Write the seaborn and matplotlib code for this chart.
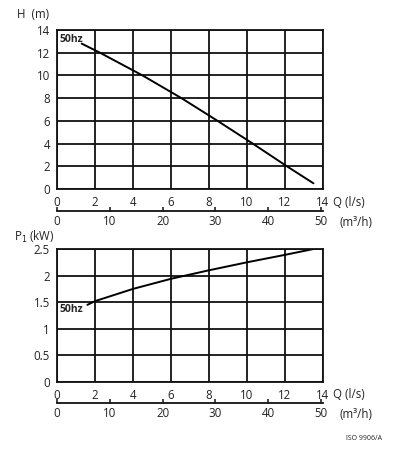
import matplotlib
matplotlib.use("Agg")
import matplotlib.pyplot as plt
import seaborn as sns
import pandas as pd

# ---- data ----
q_head = [1.3, 2.26, 4.5, 6.55, 8.45, 10.3, 12.1, 13.5]
head = [12.8, 12.0, 10.0, 8.0, 6.0, 4.0, 2.0, 0.5]
q_power = [1.6, 2.0, 4.0, 6.0, 8.0, 10.0, 12.0, 13.5]
power = [1.45, 1.52, 1.75, 1.94, 2.1, 2.25, 2.39, 2.5]
q_ticks = [0, 2, 4, 6, 8, 10, 12, 14]
m3h_ticks = [0, 10, 20, 30, 40, 50]
h_ticks = [0, 2, 4, 6, 8, 10, 12, 14]
p_ticks = [0, 0.5, 1, 1.5, 2, 2.5]
p_tick_labels = ["0", "0.5", "1", "1.5", "2", "2.5"]
curve_label = "50hz"

sns.set_theme(style="white")
plt.rcParams['font.family'] = ['Open Sans', 'DejaVu Sans']
FS = 8.3

W, H = 395, 450
fig = plt.figure(figsize=(W / 100, H / 100), dpi=100)

def px_axes(x0, y0, x1, y1):
    return fig.add_axes([x0 / W, 1 - y1 / H, (x1 - x0) / W, (y1 - y0) / H])

ax1 = px_axes(57, 30, 323, 189)
ax2 = px_axes(57, 249, 323, 382)

def style(ax, yticks, ylabels, ylim, sec_offset):
    ax.set_xlim(0, 14)
    ax.set_ylim(*ylim)
    ax.set_xticks(q_ticks)
    ax.set_xticklabels([str(v) for v in q_ticks])
    ax.set_yticks(yticks)
    ax.set_yticklabels(ylabels)
    ax.grid(True, color="#111111", linewidth=1.3)
    ax.set_axisbelow(True)
    for s in ax.spines.values():
        s.set_color("#111111")
        s.set_linewidth(1.3)
    ax.tick_params(axis="both", length=0, labelsize=FS, colors="#222222")
    ax.tick_params(axis="x", pad=5)
    ax.tick_params(axis="y", pad=5)
    ax.set_xlabel("")
    ax.set_ylabel("")
    sec = ax.secondary_xaxis(sec_offset, functions=(lambda q: q * 3.6, lambda m: m / 3.6))
    sec.set_xticks(m3h_ticks)
    sec.set_xticklabels([str(v) for v in m3h_ticks])
    sec.tick_params(axis="x", direction="in", length=3, width=1.2, pad=3,
                    labelsize=FS, colors="#222222")
    sec.spines["bottom"].set_linewidth(1.3)
    sec.spines["bottom"].set_color("#111111")
    return sec

df_h = pd.DataFrame({"Q": q_head, "H": head})
df_p = pd.DataFrame({"Q": q_power, "P": power})

sns.lineplot(data=df_h, x="Q", y="H", ax=ax1, color="black", linewidth=1.4)
sns.lineplot(data=df_p, x="Q", y="P", ax=ax2, color="black", linewidth=1.4)

style(ax1, h_ticks, [str(v) for v in h_ticks], (0, 14), -22 / 159)
style(ax2, p_ticks, p_tick_labels, (0, 2.5), -21 / 133)

ax1.text(0.12, 13.2, curve_label, fontsize=7.5, fontweight="bold", ha="left", va="center")
ax2.text(0.12, 1.37, curve_label, fontsize=7.5, fontweight="bold", ha="left", va="center")

fig.text(17 / W, 1 - 15 / H, "H  (m)", fontsize=FS, ha="left", va="center", color="#222222")
fig.text(14 / W, 1 - 237 / H, "P$_1$ (kW)", fontsize=FS, ha="left", va="center", color="#222222")
for y in (202, 394):
    fig.text(333 / W, 1 - y / H, "Q (l/s)", fontsize=FS, ha="left", va="center", color="#222222")
for y in (222, 415):
    fig.text(340 / W, 1 - y / H, "(m³/h)", fontsize=FS, ha="left", va="center", color="#222222")
fig.text(346 / W, 1 - 438 / H, "ISO 9906/A", fontsize=5, ha="left", va="center", color="#222222")

fig.savefig("out.png", dpi=100)
